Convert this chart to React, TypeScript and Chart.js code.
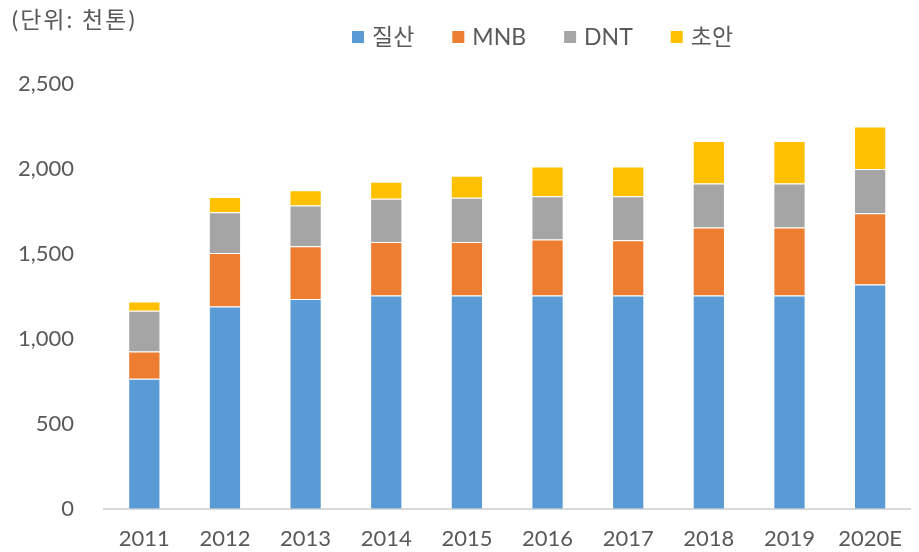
import React, { useEffect, useRef } from "react";
import { Chart, registerables } from "chart.js";

Chart.register(...registerables);

const categories = ["2011", "2012", "2013", "2014", "2015", "2016", "2017", "2018", "2019", "2020E"];
const nitricAcid = [765, 1190, 1235, 1255, 1255, 1255, 1255, 1255, 1255, 1320];
const mnb = [160, 315, 310, 315, 315, 330, 325, 400, 400, 420];
const dnt = [240, 240, 240, 255, 260, 255, 260, 260, 260, 260];
const ammoniumNitrate = [55, 90, 90, 100, 130, 175, 175, 250, 250, 250];
const seriesLabels = ["질산", "MNB", "DNT", "초안"];
const seriesColors = ["#5B9BD5", "#ED7D31", "#A5A5A5", "#FFC000"];
const unitLabel = "(단위: 천톤)";
const yMax = 2500;
const yStep = 500;

const FONT = "Lato, 'Noto Sans CJK KR', sans-serif";
const TEXT = "#595959";

const overlayPlugin = {
  id: "overlay",
  afterDraw(chart: any) {
    const ctx = chart.ctx;
    ctx.save();
    ctx.fillStyle = TEXT;
    ctx.font = `23px ${FONT}`;
    ctx.textBaseline = "middle";
    ctx.textAlign = "left";
    try {
      ctx.letterSpacing = "2px";
    } catch (e) {}
    ctx.fillText(unitLabel, 12, 21);
    try {
      ctx.letterSpacing = "0px";
    } catch (e) {}
    // legend
    let x = 352;
    const y = 37;
    ctx.font = `23px ${FONT}`;
    chart.data.datasets.forEach((ds: any) => {
      ctx.fillStyle = ds.backgroundColor;
      ctx.fillRect(x, y - 6, 12, 12);
      ctx.fillStyle = TEXT;
      ctx.fillText(ds.label, x + 20, y + 1);
      x += 20 + ctx.measureText(ds.label).width + 38;
    });
    ctx.restore();
  },
};

export default function App() {
  const ref = useRef<HTMLCanvasElement>(null);
  useEffect(() => {
    document.body.style.margin = "0";
    const values = [nitricAcid, mnb, dnt, ammoniumNitrate];
    const chart = new Chart(ref.current!, {
      type: "bar",
      data: {
        labels: categories,
        datasets: values.map((v, i) => ({
          label: seriesLabels[i],
          data: v,
          backgroundColor: seriesColors[i],
          borderColor: "rgba(255,255,255,0.55)",
          borderWidth: 1,
          barPercentage: 0.4,
          categoryPercentage: 1,
        })),
      },
      options: {
        animation: false,
        responsive: false,
        maintainAspectRatio: false,
        layout: { padding: { top: 84, right: 0, bottom: 0, left: 0 } },
        plugins: { legend: { display: false }, tooltip: { enabled: false } },
        scales: {
          x: {
            stacked: true,
            grid: { display: false, drawTicks: false },
            border: { display: true, color: "#D9D9D9", width: 2 },
            ticks: { color: TEXT, font: { family: FONT, size: 22 }, padding: 17 },
            afterFit: (s: any) => {
              s.height = 42.5;
            },
          },
          y: {
            stacked: true,
            min: 0,
            max: yMax,
            grid: { display: false, drawTicks: false },
            border: { display: false },
            ticks: {
              stepSize: yStep,
              color: TEXT,
              font: { family: FONT, size: 22 },
              padding: 30,
              callback: (v: any) => Number(v).toLocaleString("en-US"),
            },
            afterFit: (s: any) => {
              s.width = 104;
            },
          },
        },
      },
      plugins: [overlayPlugin],
    });
    return () => chart.destroy();
  }, []);
  return <canvas ref={ref} width={919} height={552} style={{ display: "block" }} />;
}
